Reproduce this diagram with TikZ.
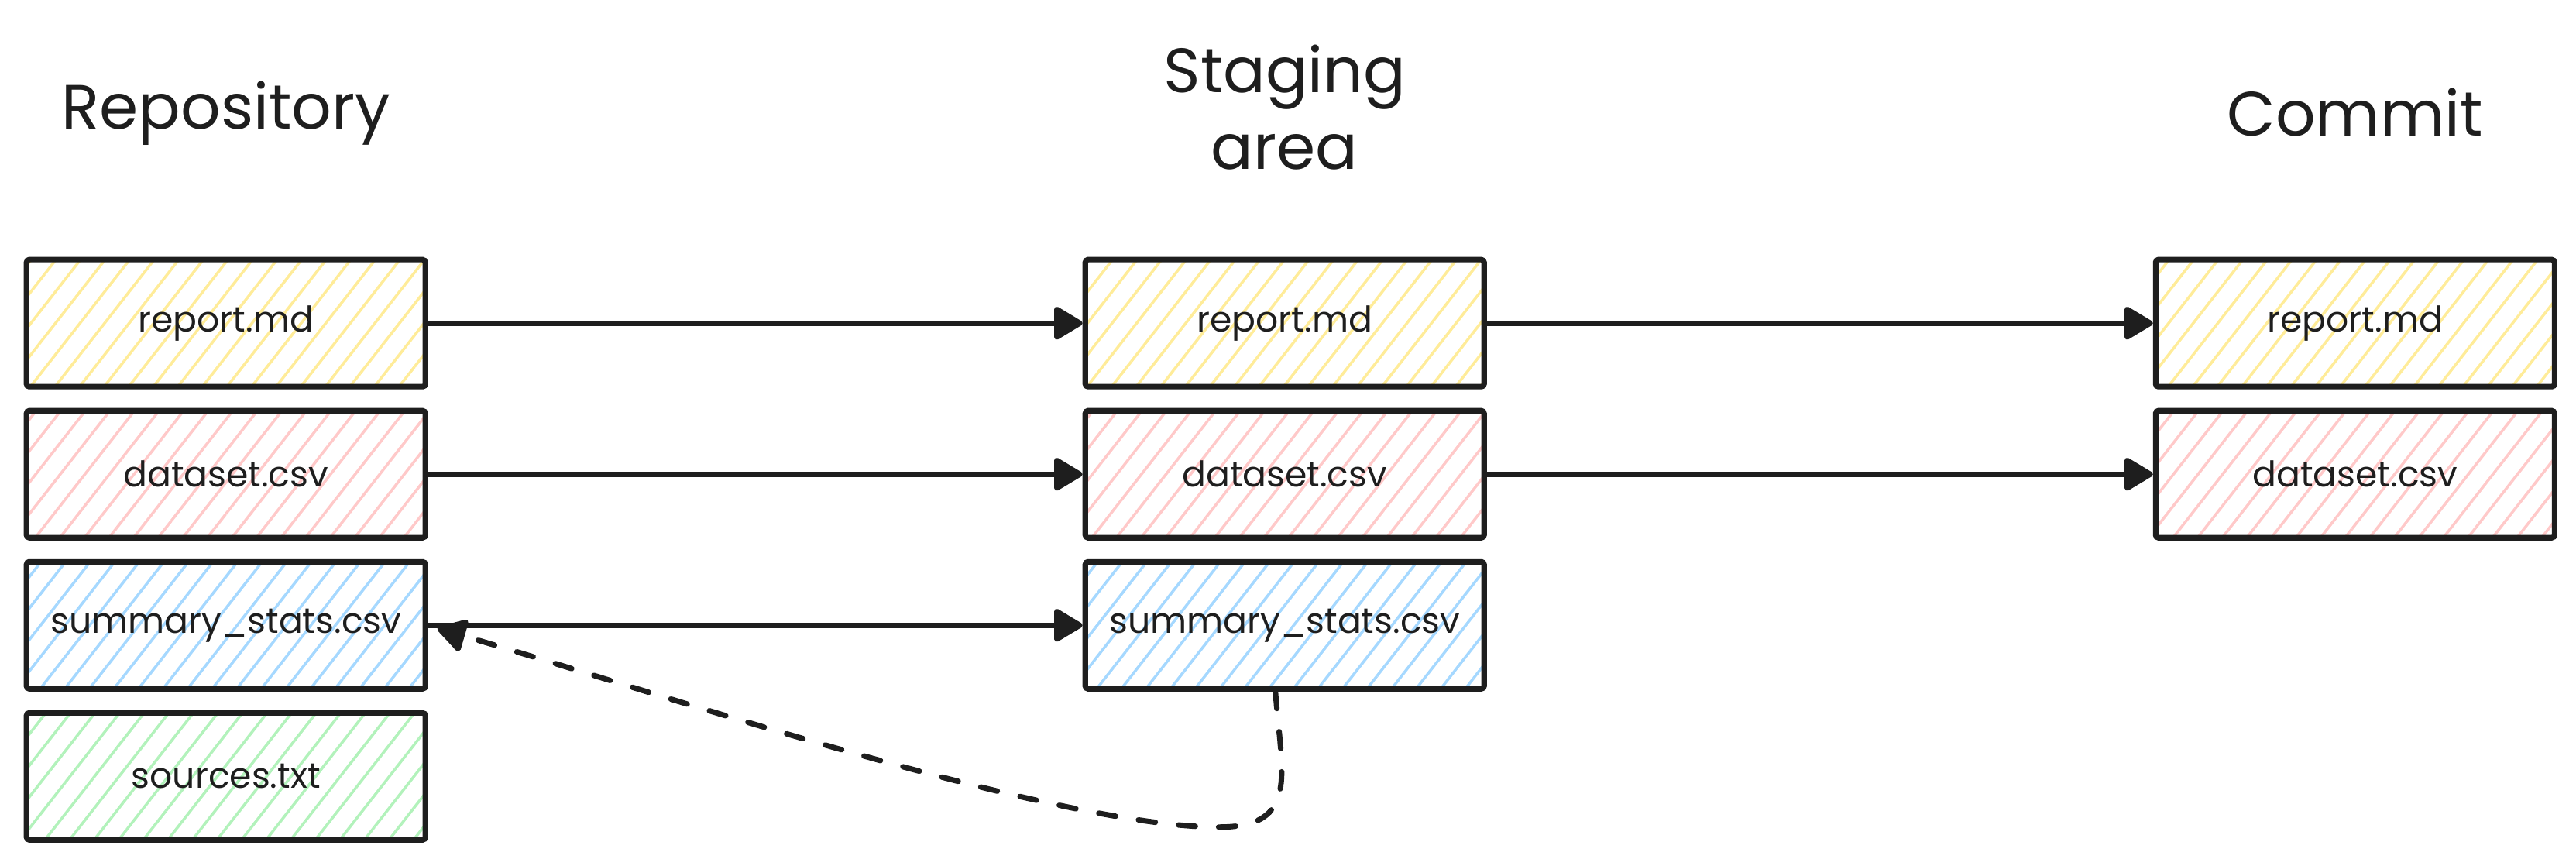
\documentclass[tikz,border=0pt]{standalone}
\usepackage{fontspec}
\setmainfont{Poppins}
\usetikzlibrary{arrows.meta, calc, matrix, patterns.meta}
\definecolor{ink}{HTML}{1E1E1E}
\definecolor{hatchYellow}{HTML}{FFEC99}
\definecolor{hatchRed}{HTML}{FFC9C9}
\definecolor{hatchBlue}{HTML}{A5D8FF}
\definecolor{hatchGreen}{HTML}{B2F2BB}
\tikzset{
  file/.style={draw=ink, line width=2pt, minimum width=5.15cm, minimum height=1.64cm, rounded corners=1pt, text=ink, font=\fontsize{13}{16}\selectfont},
  hatched/.style={pattern={Lines[angle=52, distance=0.25cm, line width=1pt]}, pattern color=#1},
  heading/.style={text=ink, align=center, font=\fontsize{23}{28}\selectfont},
  move/.style={ink, line width=1.9pt, -{Triangle[round, length=0.4cm, width=0.46cm]}},
  unstage/.style={move, line width=2pt, dash pattern=on 0.22cm off 0.3cm, line cap=round}
}

\begin{document}
\begin{tikzpicture}
  \useasboundingbox (0,0) rectangle (33.26,11.18);

  \matrix (files) [matrix of nodes, nodes={file}, inner sep=0pt, column sep=8.45cm, row sep=0.24cm, anchor=north west] at (0.30,7.87) {
    |[hatched=hatchYellow] (r1)| report.md & |[hatched=hatchYellow] (s1)| report.md &[0.15cm] |[hatched=hatchYellow] (c1)| report.md \\
    |[hatched=hatchRed] (r2)| dataset.csv & |[hatched=hatchRed] (s2)| dataset.csv & |[hatched=hatchRed] (c2)| dataset.csv \\
    |[hatched=hatchBlue] (r3)| summary\_stats.csv & |[hatched=hatchBlue] (s3)| summary\_stats.csv & \\
    |[hatched=hatchGreen] (r4)| sources.txt & & \\
  };

  % column headings
  \node[heading] (repotitle) at ($(r1.north)+(0,1.87)$) {Repository};
  \node[heading] (stagetitle) at ($(s1.north)+(0,1.93)$) {Staging\\area};
  \node[heading] (committitle) at ($(c1.north)+(0,1.87)$) {Commit};

  % add
  \draw[move] (r1) -- (s1);
  \draw[move] (r2) -- (s2);
  \draw[move] (r3) -- (s3);

  % commit
  \draw[move] (s1) -- (c1);
  \draw[move] (s2) -- (c2);

  % restore
  \draw[unstage] ($(s3.south)+(-0.12,0)$) .. controls ($(s3.south)+(-0.04,-1.07)$) and ($(s3.south)+(0.2,-1.75)$) .. ($(s3.south)+(-0.85,-1.75)$)
    .. controls (13.6,0.5) and (8.3,2.3) .. ($(r3.east)+(0.12,-0.04)$);
\end{tikzpicture}
\end{document}
